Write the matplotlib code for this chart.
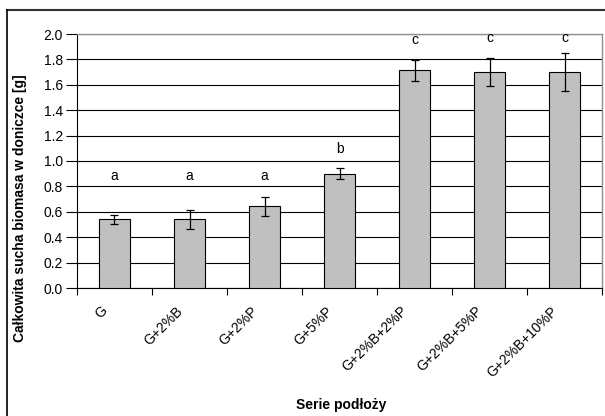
import numpy as np
import matplotlib
matplotlib.use('Agg')
import matplotlib.pyplot as plt
from matplotlib.lines import Line2D
from matplotlib.transforms import ScaledTranslation

### data
series = ['G', 'G+2%B', 'G+2%P', 'G+5%P', 'G+2%B+2%P', 'G+2%B+5%P', 'G+2%B+10%P']
biomass = [0.54, 0.54, 0.645, 0.90, 1.715, 1.70, 1.70]
errors = [0.037, 0.076, 0.075, 0.042, 0.083, 0.113, 0.15]
groups = ['a', 'a', 'a', 'b', 'c', 'c', 'c']
group_y = [0.85, 0.85, 0.85, 1.06, 1.92, 1.94, 1.94]
yticks = [0.0, 0.2, 0.4, 0.6, 0.8, 1.0, 1.2, 1.4, 1.6, 1.8, 2.0]

plt.rcParams['font.family'] = ['Liberation Sans', 'DejaVu Sans']
fs = 10

W, H = 605, 416
fig = plt.figure(figsize=(W/100, H/100), dpi=100)
ax = fig.add_axes([77/W, 1 - 288/H, (602-77)/W, (288-34)/H])

x = np.arange(len(series))
ax.bar(x, biomass, width=0.41, color='#c0c0c0', edgecolor='black',
       linewidth=0.8, zorder=3)
ax.errorbar(x, biomass, yerr=errors, fmt='none', ecolor='black',
            elinewidth=0.9, capsize=3, capthick=0.9, zorder=4)

for xi, g, gy in zip(x, groups, group_y):
    ax.text(xi, gy, g, ha='center', va='baseline', fontsize=fs)

ax.set_xlim(-0.5, len(series) - 0.5)
ax.set_ylim(0, 2.0)
ax.set_yticks(yticks)
ax.set_yticklabels(['%.1f' % v for v in yticks], fontsize=fs)
ax.yaxis.grid(True, color='black', linewidth=0.8, zorder=0)
ax.set_axisbelow(True)

# category ticks sit between the bars, labels under the bars
ax.set_xticks(np.arange(len(series) + 1) - 0.5)
ax.set_xticklabels([])
ax.set_xticks(x, minor=True)
ax.set_xticklabels(series, minor=True, rotation=45, ha='right', va='top',
                   fontsize=fs)
ax.tick_params(axis='x', which='minor', length=0, pad=11.5)
ax.tick_params(axis='x', which='major', length=5, width=0.8, direction='out')
ax.tick_params(axis='y', length=8, width=0.8, pad=2, direction='out')
offset = ScaledTranslation(-4/100, 0, fig.dpi_scale_trans)
for lab in ax.get_xticklabels(minor=True):
    lab.set_transform(lab.get_transform() + offset)

for side in ['top', 'right']:
    ax.spines[side].set_color('#909090')
    ax.spines[side].set_linewidth(1.0)
for side in ['left', 'bottom']:
    ax.spines[side].set_color('black')
    ax.spines[side].set_linewidth(0.8)

ax.set_ylabel('Całkowita sucha biomasa w doniczce [g]', fontsize=fs,
              fontweight='bold')
ax.yaxis.set_label_coords(27/W, 0.5, transform=fig.transFigure)
fig.text(341/W, 1 - 409/H, 'Serie podłoży', ha='center', va='baseline',
         fontsize=fs, fontweight='bold')

# outer frame, cropped on the right and bottom
fig.add_artist(Line2D([7/W, 1.0], [1 - 10/H, 1 - 10/H], color='#333333',
                      linewidth=1.5, transform=fig.transFigure))
fig.add_artist(Line2D([7/W, 7/W], [0, 1 - 10/H], color='black',
                      linewidth=1.2, transform=fig.transFigure))

plt.savefig('out.png', dpi=100)
